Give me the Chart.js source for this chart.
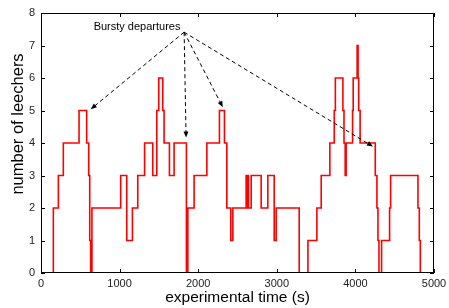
<!DOCTYPE html>
<html>
<head>
<meta charset="utf-8">
<script src="https://cdn.jsdelivr.net/npm/chart.js@4.4.1/dist/chart.umd.min.js"></script>
<style>
  html, body { margin: 0; padding: 0; background: #fff; }
  #wrap { width: 449px; height: 308px; }
</style>
</head>
<body>
<div id="wrap"><canvas id="leechersChart" width="449" height="308"></canvas></div>
<script>
// time (s) at which the number of leechers changes, and the new value
const times = [0, 157, 221, 284, 484, 581, 607, 620, 632, 648,
    1014, 1091, 1163, 1231, 1318, 1422, 1473, 1498, 1549, 1566,
    1634, 1693, 1850, 1868, 1948, 2110, 2270, 2334, 2364, 2415,
    2441, 2610, 2619, 2627, 2640, 2674, 2801, 2886, 2967, 2992,
    3285, 3396, 3510, 3565, 3675, 3731, 3745, 3841, 3855, 3870,
    3882, 3964, 3972, 4022, 4034, 4042, 4060, 4253, 4274, 4287,
    4300, 4333, 4435, 4448, 4796, 4813, 4826];
const leechers = [0, 2, 3, 4, 5, 4, 3, 1, 0, 2,
    3, 1, 2, 3, 4, 3, 5, 6, 5, 4,
    3, 4, 0, 2, 3, 4, 5, 4, 2, 1,
    2, 3, 2, 3, 2, 3, 2, 3, 1, 2,
    0, 1, 2, 3, 4, 5, 6, 5, 4, 3,
    4, 5, 6, 7, 6, 5, 4, 3, 2, 1,
    0, 1, 2, 3, 2, 1, 0];

const xTicks = [0, 1000, 2000, 3000, 4000, 5000];
const yTicks = [0, 1, 2, 3, 4, 5, 6, 7, 8];

// annotation, in data units (time, leechers)
const noteLabel = 'Bursty departures';
const noteAt = [1222, 7.57];
const noteFrom = [1821, 7.41];
const noteTargets = [[633, 5.04], [1846, 4.17], [2313, 5.1], [4223, 3.89]];

const points = times.map((t, i) => ({ x: t, y: leechers[i] }));

// box, inward ticks, y title and the arrows
const framePlugin = {
    id: 'frame',
    afterDatasetsDraw(chart) {
        const { ctx, chartArea: a, scales: { x, y } } = chart;
        ctx.save();
        ctx.strokeStyle = '#000';
        ctx.lineWidth = 1;
        ctx.strokeRect(a.left + 0.5, a.top + 0.5, a.right - a.left - 1, a.bottom - a.top - 1);
        ctx.beginPath();
        xTicks.forEach(v => {
            const px = Math.round(x.getPixelForValue(v)) + 0.5;
            ctx.moveTo(px, a.bottom); ctx.lineTo(px, a.bottom - 4);
            ctx.moveTo(px, a.top); ctx.lineTo(px, a.top + 4);
        });
        yTicks.forEach(v => {
            const py = Math.round(y.getPixelForValue(v)) + 0.5;
            ctx.moveTo(a.left, py); ctx.lineTo(a.left + 4, py);
            ctx.moveTo(a.right, py); ctx.lineTo(a.right - 4, py);
        });
        ctx.stroke();

        // y axis title
        ctx.fillStyle = '#000';
        ctx.font = '16.5px "Liberation Sans", Arial, sans-serif';
        ctx.textAlign = 'center';
        ctx.textBaseline = 'middle';
        ctx.translate(18.5, 124);
        ctx.rotate(-Math.PI / 2);
        ctx.fillText('number of leechers', 0, 0);
        ctx.restore();

        // annotation text and dashed arrows
        ctx.save();
        ctx.fillStyle = '#000';
        ctx.font = '11px "Liberation Sans", Arial, sans-serif';
        ctx.textAlign = 'center';
        ctx.textBaseline = 'middle';
        ctx.fillText(noteLabel, x.getPixelForValue(noteAt[0]), y.getPixelForValue(noteAt[1]));
        const fx = x.getPixelForValue(noteFrom[0]);
        const fy = y.getPixelForValue(noteFrom[1]);
        noteTargets.forEach(([tv, lv]) => {
            const tx = x.getPixelForValue(tv);
            const ty = y.getPixelForValue(lv);
            const ang = Math.atan2(ty - fy, tx - fx);
            ctx.strokeStyle = '#000';
            ctx.lineWidth = 1;
            ctx.setLineDash([4, 3]);
            ctx.beginPath();
            ctx.moveTo(fx, fy);
            ctx.lineTo(tx - 4 * Math.cos(ang), ty - 4 * Math.sin(ang));
            ctx.stroke();
            ctx.setLineDash([]);
            ctx.beginPath();
            ctx.moveTo(tx, ty);
            ctx.lineTo(tx - 6 * Math.cos(ang) + 2.5 * Math.sin(ang), ty - 6 * Math.sin(ang) - 2.5 * Math.cos(ang));
            ctx.lineTo(tx - 6 * Math.cos(ang) - 2.5 * Math.sin(ang), ty - 6 * Math.sin(ang) + 2.5 * Math.cos(ang));
            ctx.closePath();
            ctx.fill();
        });
        ctx.restore();
    }
};

const tickFont = { family: '"Liberation Sans", Arial, sans-serif', size: 11 };

new Chart(document.getElementById('leechersChart').getContext('2d'), {
    type: 'line',
    data: {
        datasets: [{
            data: points,
            stepped: 'before',
            borderColor: '#ff0000',
            borderWidth: 1.6,
            pointRadius: 0,
            fill: false
        }]
    },
    options: {
        responsive: false,
        animation: false,
        devicePixelRatio: 1,
        layout: { padding: { top: 13, right: 15, left: 0, bottom: 0 } },
        plugins: { legend: { display: false }, tooltip: { enabled: false } },
        scales: {
            x: {
                type: 'linear',
                min: 0,
                max: 5000,
                grid: { display: false, drawTicks: false },
                border: { display: false },
                afterBuildTicks: s => { s.ticks = xTicks.map(v => ({ value: v })); },
                ticks: { font: tickFont, color: '#222', padding: 4, maxRotation: 0, callback: v => String(v) },
                title: {
                    display: true,
                    text: 'experimental time (s)',
                    font: { family: '"Liberation Sans", Arial, sans-serif', size: 15.5 },
                    color: '#000',
                    padding: { top: 0, bottom: 1 }
                },
                afterFit: s => { s.height = 35; s.paddingLeft = 0; s.paddingRight = 0; }
            },
            y: {
                min: 0,
                max: 8,
                grid: { display: false, drawTicks: false },
                border: { display: false },
                afterBuildTicks: s => { s.ticks = yTicks.map(v => ({ value: v })); },
                ticks: { font: tickFont, color: '#222', padding: 6, callback: v => String(v) },
                afterFit: s => { s.width = 41; s.paddingTop = 0; s.paddingBottom = 0; }
            }
        }
    },
    plugins: [framePlugin]
});
</script>
</body>
</html>
